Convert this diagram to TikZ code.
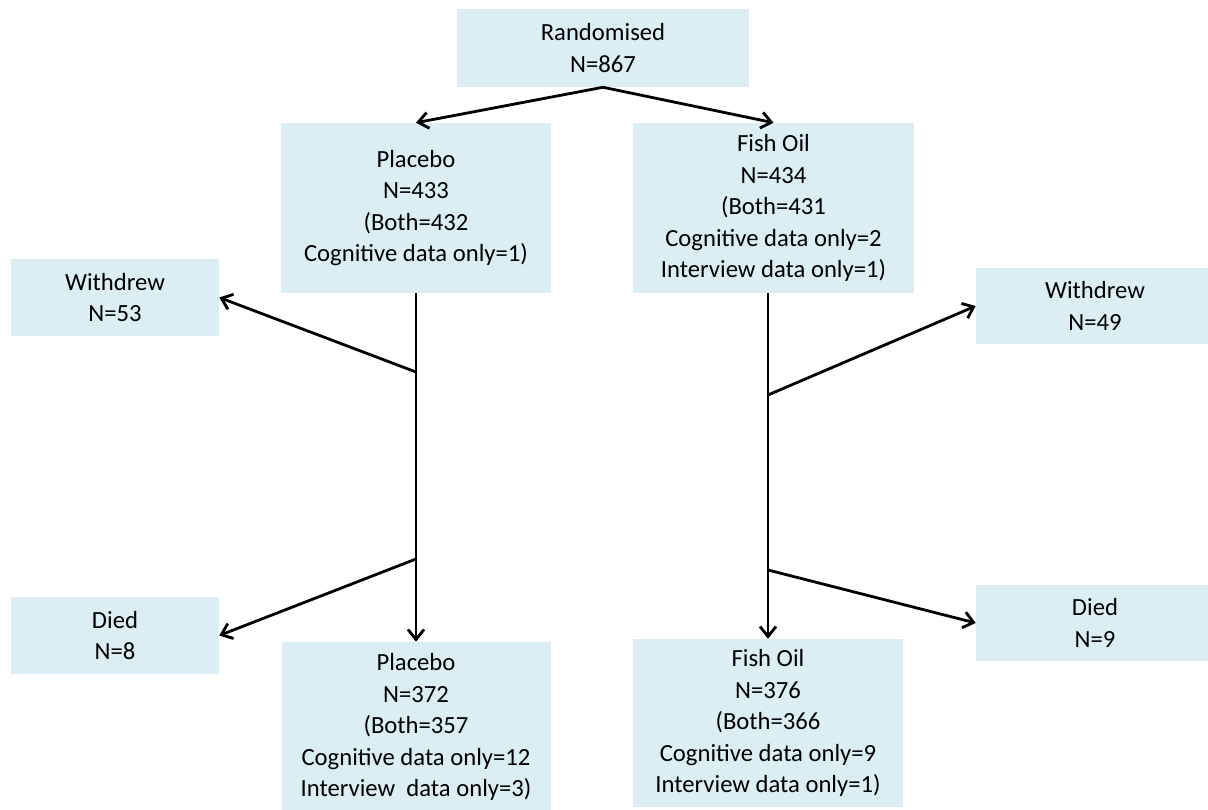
\documentclass[tikz,border=0pt]{standalone}
\usepackage{fontspec}
\setmainfont{Carlito}
\usetikzlibrary{arrows.meta,calc}
\definecolor{boxfill}{HTML}{DAEEF3}
\tikzset{
  box/.style={fill=boxfill, draw=none, inner sep=0pt, align=center,
    font=\fontsize{18.5}{23.6}\selectfont},
  arr/.style={line width=2.1pt, -{Straight Barb[length=7.5pt,width=12pt,line width=2.1pt]}},
  ln/.style={line width=2.1pt}
}
\begin{document}
\begin{tikzpicture}[x=0.75pt,y=-0.75pt]
\clip (0,0) rectangle (1208,810);
\fill[white] (0,0) rectangle (1208,810);
% boxes
\node[box, minimum width=292*0.75pt, minimum height=78*0.75pt] (rand) at (603,48) {Randomised\\N=867};
\node[box, minimum width=270*0.75pt, minimum height=170*0.75pt] (plac) at (416,208) {Placebo\\N=433\\(Both=432\\Cognitive data only=1)};
\node[box, minimum width=281*0.75pt, minimum height=170*0.75pt] (fish) at (773.5,208) {Fish Oil\\N=434\\(Both=431\\Cognitive data only=2\\Interview data only=1)};
\node[box, minimum width=208*0.75pt, minimum height=77*0.75pt] (wl) at (115,297.5) {Withdrew\\N=53};
\node[box, minimum width=238*0.75pt, minimum height=76*0.75pt] (wr) at (1095,306) {Withdrew\\N=49};
\node[box, minimum width=208*0.75pt, minimum height=77*0.75pt] (dl) at (115,635.5) {Died\\N=8};
\node[box, minimum width=238*0.75pt, minimum height=76*0.75pt] (dr) at (1095,623) {Died\\N=9};
\node[box, minimum width=269*0.75pt, minimum height=170*0.75pt] (plac2) at (416,727) {Placebo\\N=372\\(Both=357\\Cognitive data only=12\\Interview\ \ data only=3)};
\node[box, minimum width=270*0.75pt, minimum height=168*0.75pt] (fish2) at (768,723) {Fish Oil\\N=376\\(Both=366\\Cognitive data only=9\\Interview data only=1)};
% branch points
\coordinate (pw) at (416,372);
\coordinate (pd) at (416,559);
\coordinate (fw) at (768,395);
\coordinate (fd) at (768,570);
\coordinate (ftop) at (768,293);
% connectors
\draw[arr] (rand.south) -- (plac.north);
\draw[arr] (rand.south) -- (fish.north);
\draw[arr] (plac.south) -- (plac2.north);
\draw[arr] (ftop) -- (fish2.north);
\draw[arr] (pw) -- (wl.east);
\draw[arr] (pd) -- (dl.east);
\draw[arr] (fw) -- (wr.west);
\draw[arr] (fd) -- (dr.west);
\end{tikzpicture}
\end{document}
